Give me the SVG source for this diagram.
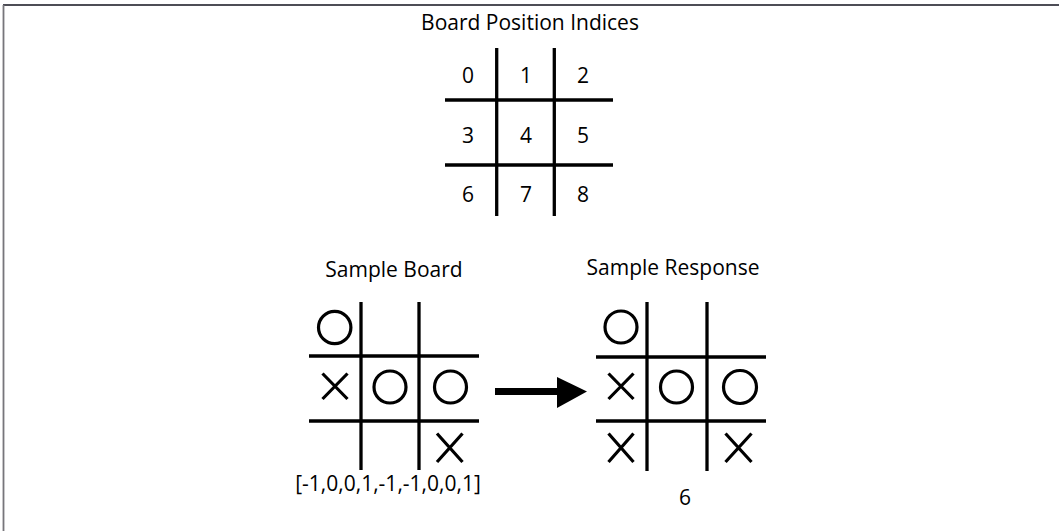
<svg xmlns="http://www.w3.org/2000/svg" width="1059" height="531" viewBox="0 0 1059 531">
<style>
  .t { font-family: "Open Sans", "Noto Sans", "Liberation Sans", sans-serif; font-size: 21px; fill: #000; text-anchor: middle; }
  .g { stroke: #000; stroke-width: 3.3; fill: none; }
  .m { stroke: #000; stroke-width: 3.2; fill: none; }
</style>
<rect x="0" y="0" width="1059" height="531" fill="#fff"/>
<g id="frame">
  <line x1="3" y1="5" x2="1059" y2="5" stroke="#4d4d56" stroke-width="1.8"/>
  <line x1="3.5" y1="5" x2="3.5" y2="531" stroke="#77767b" stroke-width="1.8"/>
</g>
<g id="indices">
  <text class="t" x="530" y="30">Board Position Indices</text>
  <g class="g">
    <line x1="496.7" y1="48" x2="496.7" y2="216"/>
    <line x1="554.3" y1="48" x2="554.3" y2="216"/>
    <line x1="445" y1="100" x2="613" y2="100"/>
    <line x1="445" y1="165" x2="613" y2="165"/>
  </g>
  <text class="t" x="468" y="83">0</text>
  <text class="t" x="526" y="83">1</text>
  <text class="t" x="583" y="83">2</text>
  <text class="t" x="468" y="143">3</text>
  <text class="t" x="526" y="143">4</text>
  <text class="t" x="583" y="143">5</text>
  <text class="t" x="468" y="202">6</text>
  <text class="t" x="526" y="202">7</text>
  <text class="t" x="583" y="202">8</text>
</g>
<g id="sample-board">
  <text class="t" x="394" y="277">Sample Board</text>
  <g class="g">
    <line x1="361" y1="302" x2="361" y2="470"/>
    <line x1="419" y1="302" x2="419" y2="470"/>
    <line x1="309" y1="356" x2="479" y2="356"/>
    <line x1="309" y1="421" x2="479" y2="421"/>
  </g>
  <g class="m">
    <circle cx="334.7" cy="327.5" r="16.2"/>
    <path d="M322.5 373.5 L347.5 399 M347.5 373.5 L322.5 399"/>
    <circle cx="390" cy="387" r="16"/>
    <circle cx="450.5" cy="387" r="16"/>
    <path d="M437 433.5 L462.5 462 M462.5 433.5 L437 462"/>
  </g>
  <text class="t" x="388" y="491">[-1,0,0,1,-1,-1,0,0,1]</text>
</g>
<g id="connectors">
  <line x1="495" y1="391.5" x2="559" y2="391.5" stroke="#000" stroke-width="7"/>
  <polygon points="557,377 587,391.5 557,408" fill="#000"/>
</g>
<g id="sample-response">
  <text class="t" x="673" y="275">Sample Response</text>
  <g class="g">
    <line x1="647" y1="302" x2="647" y2="471"/>
    <line x1="707" y1="302" x2="707" y2="471"/>
    <line x1="596" y1="357" x2="766" y2="357"/>
    <line x1="596" y1="421" x2="766" y2="421"/>
  </g>
  <g class="m">
    <circle cx="621" cy="327" r="16"/>
    <path d="M608.5 373.5 L633.5 399 M633.5 373.5 L608.5 399"/>
    <circle cx="676.5" cy="387" r="16"/>
    <circle cx="740" cy="387" r="16.5"/>
    <path d="M608.5 433.5 L633.5 462 M633.5 433.5 L608.5 462"/>
    <path d="M725.5 433.5 L751.5 462 M751.5 433.5 L725.5 462"/>
  </g>
  <text class="t" x="685" y="505">6</text>
</g>
</svg>
